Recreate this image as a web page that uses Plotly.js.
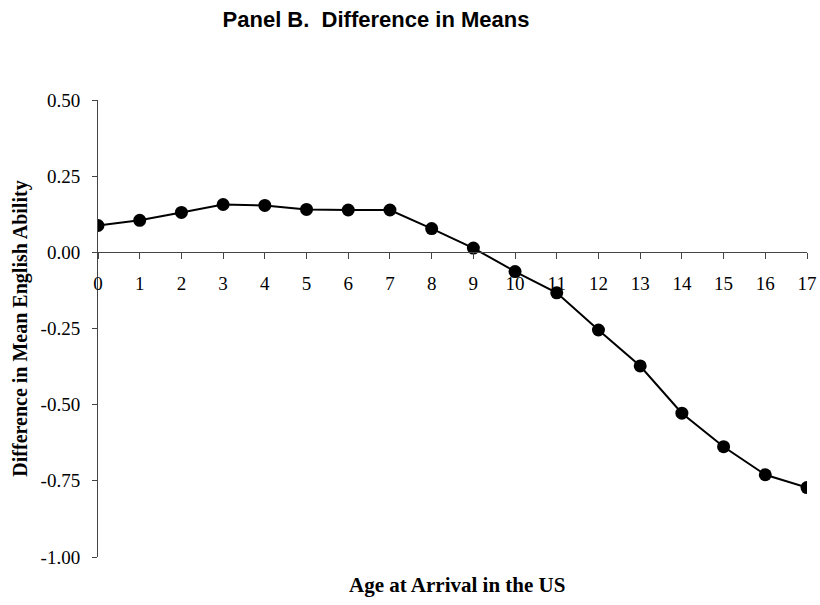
<!DOCTYPE html>
<html>
<head>
<meta charset="utf-8">
<script src="https://cdn.plot.ly/plotly-3.0.1.min.js"></script>
<style>html,body{margin:0;padding:0;background:#fff;}#chart{width:820px;height:605px;}</style>
</head>
<body>
<div id="chart"></div>
<script>
var ages = [0,1,2,3,4,5,6,7,8,9,10,11,12,13,14,15,16,17];
var diffMeans = [0.088,0.105,0.131,0.157,0.154,0.141,0.139,0.139,0.078,0.014,-0.063,-0.133,-0.255,-0.373,-0.528,-0.638,-0.730,-0.772];
var yTickVals = [0.5,0.25,0,-0.25,-0.5,-0.75,-1];
var yTickText = ['0.50','0.25','0.00','-0.25','-0.50','-0.75','-1.00'];

var serif = 'Liberation Serif, Times New Roman, serif';
var trace = {
  x: ages, y: diffMeans, type: 'scatter', mode: 'lines+markers',
  line: {color: '#000', width: 2},
  marker: {color: '#000', size: 13, symbol: 'circle'},
  hoverinfo: 'x+y'
};
var layout = {
  width: 820, height: 605,
  margin: {l: 98, r: 13, t: 100, b: 48},
  paper_bgcolor: '#fff', plot_bgcolor: '#fff',
  showlegend: false,
  title: {text: 'Panel B.  Difference in Means', font: {family: 'Liberation Sans, Arial, sans-serif', size: 22, color: '#000', weight: 'bold'},
          xref: 'container', x: 376/820, xanchor: 'center', yref: 'container', y: 1 - 19/605, yanchor: 'middle'},
  xaxis: {
    range: [0, 17], tickvals: ages, ticktext: ages.map(String),
    anchor: 'free', position: 2/3,
    showline: true, linecolor: '#444', linewidth: 1,
    ticks: 'outside', ticklen: 6, tickcolor: '#444', ticklabelstandoff: 8,
    showgrid: false, zeroline: false,
    tickfont: {family: serif, size: 19, color: '#000'}
  },
  yaxis: {
    range: [-1, 0.5], tickvals: yTickVals, ticktext: yTickText,
    showline: true, linecolor: '#444', linewidth: 1,
    ticks: 'outside', ticklen: 5, tickcolor: '#444', ticklabelstandoff: 8,
    showgrid: false, zeroline: false,
    tickfont: {family: serif, size: 19, color: '#000'},
    title: {text: 'Difference in Mean English Ability', standoff: 7, font: {family: serif, size: 20, color: '#000', weight: 'bold'}}
  },
  annotations: [{
    text: 'Age at Arrival in the US', xref: 'paper', yref: 'paper',
    x: (457-98)/709, y: -(585-557)/457, xanchor: 'center', yanchor: 'middle', showarrow: false,
    font: {family: serif, size: 21, color: '#000', weight: 'bold'}
  }]
};
Plotly.newPlot('chart', [trace], layout, {displayModeBar: false, staticPlot: true});
</script>
</body>
</html>
